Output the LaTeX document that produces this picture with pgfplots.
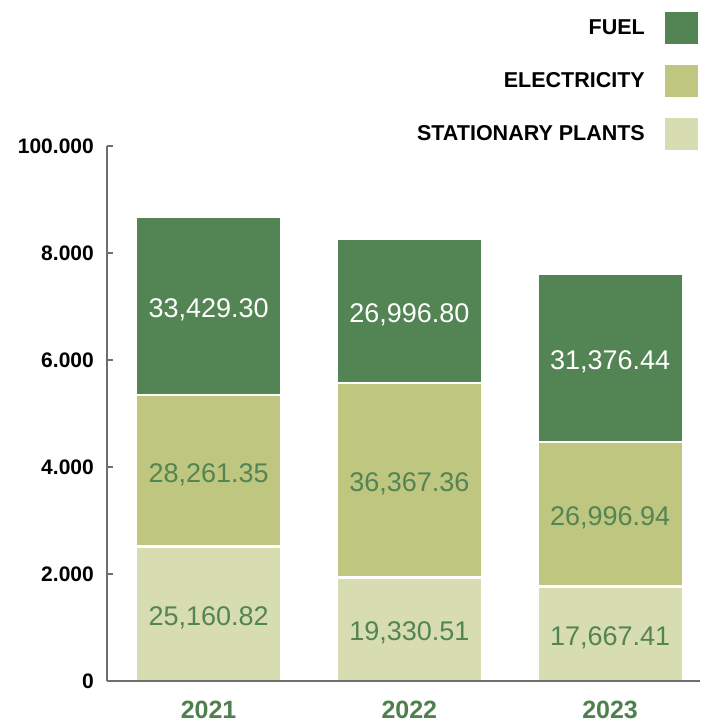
\documentclass[border=0pt]{standalone}
\usepackage{pgfplots}
\pgfplotsset{compat=1.18}
\usepackage{fontspec}
\setmainfont{Liberation Sans}
\definecolor{fuel}{RGB}{83,132,83}
\definecolor{elec}{RGB}{191,198,127}
\definecolor{stat}{RGB}{215,221,176}
\definecolor{axgray}{RGB}{110,110,110}
\definecolor{yeargreen}{RGB}{77,128,77}
\tikzset{val/.style={font=\fontsize{27}{27}\selectfont, yshift=-4pt}}
\begin{document}
\begin{tikzpicture}
\begin{axis}[
 name=ax,
 scale only axis, width=593pt, height=535pt,
 xmin=-0.506, xmax=2.448, ymin=0, ymax=100000,
 ybar stacked, bar width=0.725,
 axis on top, clip=false,
 axis x line=bottom, axis y line=left,
 axis line style={-, draw=axgray, line width=1.3pt},
 xtick={0,1,2}, xticklabels={2021,2022,2023},
 xtick style={draw=none},
 xticklabel style={anchor=north, inner sep=0pt, yshift=-19.5pt, font=\fontsize{25}{25}\selectfont\bfseries, text=yeargreen},
 ytick={0,20000,40000,60000,80000,100000},
 yticklabels={\textbf{0},\textbf{2.000},\textbf{4.000},\textbf{6.000},\textbf{8.000},\textbf{100.000}},
 scaled y ticks=false,
 ytick style={draw=axgray, line width=1.2pt},
 major tick length=6pt,
 tick align=inside,
 yticklabel style={anchor=east, inner sep=0pt, xshift=-13pt, font=\fontsize{21}{21}\selectfont\bfseries, text=black},
 legend style={at={(0.9963,1.2505)}, anchor=north east, draw=none, fill=none, inner sep=0pt, outer sep=0pt, row sep=21pt, column sep=18pt, font=\fontsize{21.5}{21.5}\selectfont\bfseries},
 legend plot pos=right, legend cell align=right, reverse legend,
 legend image code/.code={\fill[#1, draw=none] (0pt,-16pt) rectangle (33pt,16pt);},
]
\addplot[fill=stat, draw=white, line width=2.5pt] coordinates {(0,25160.82) (1,19330.51) (2,17667.41)};
\addlegendentry{STATIONARY PLANTS}
\addplot[fill=elec, draw=white, line width=2.5pt] coordinates {(0,28261.35) (1,36367.36) (2,26996.94)};
\addlegendentry{ELECTRICITY}
\addplot[fill=fuel, draw=white, line width=2.5pt] coordinates {(0,33429.30) (1,26996.80) (2,31376.44)};
\addlegendentry{FUEL}

\coordinate (s0) at (axis cs:0,12580.41);
\coordinate (s1) at (axis cs:1,9665.26);
\coordinate (s2) at (axis cs:2,8833.71);
\coordinate (e0) at (axis cs:0,39291.50);
\coordinate (e1) at (axis cs:1,37514.19);
\coordinate (e2) at (axis cs:2,31165.88);
\coordinate (f0) at (axis cs:0,70136.82);
\coordinate (f1) at (axis cs:1,69196.27);
\coordinate (f2) at (axis cs:2,60352.57);
\end{axis}
\node[val,text=fuel] at (s0) {25,160.82};
\node[val,text=fuel] at (s1) {19,330.51};
\node[val,text=fuel] at (s2) {17,667.41};
\node[val,text=fuel] at (e0) {28,261.35};
\node[val,text=fuel] at (e1) {36,367.36};
\node[val,text=fuel] at (e2) {26,996.94};
\node[val,text=white] at (f0) {33,429.30};
\node[val,text=white] at (f1) {26,996.80};
\node[val,text=white] at (f2) {31,376.44};
\path ([xshift=-107pt,yshift=-41pt]ax.south west) rectangle ([yshift=146pt]ax.north east);
\end{tikzpicture}
\end{document}
